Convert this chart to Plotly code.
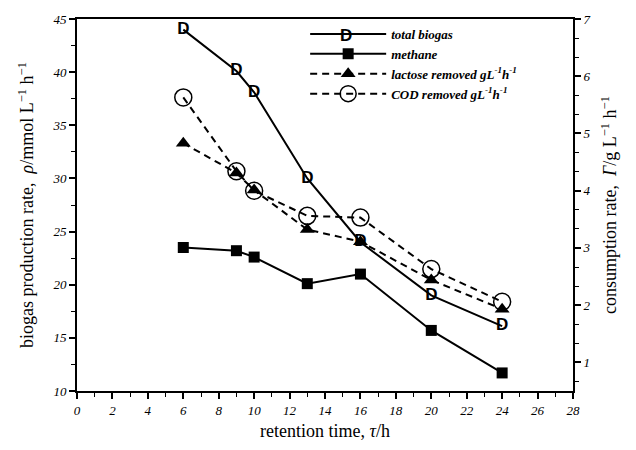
import plotly.graph_objects as go

retention_time = [6, 9, 10, 13, 16, 20, 24]
total_biogas = [44.0, 40.1, 38.1, 30.0, 24.0, 19.0, 16.1]
methane = [23.5, 23.2, 22.6, 20.1, 21.0, 15.7, 11.7]
lactose_removed = [4.83, 4.31, 4.01, 3.32, 3.11, 2.44, 1.93]
cod_removed = [5.63, 4.34, 4.00, 3.56, 3.53, 2.63, 2.06]

serif = "Liberation Serif"
black = "#000000"
d_font = dict(family="Liberation Sans", size=17, weight="bold", color=black)

fig = go.Figure()

fig.add_trace(go.Scatter(
    x=retention_time, y=total_biogas, name="total biogas",
    mode="lines+text", text=["D"] * len(retention_time), textposition="middle center",
    textfont=d_font,
    line=dict(color=black, width=2), yaxis="y"))

fig.add_trace(go.Scatter(
    x=retention_time, y=methane, name="methane",
    mode="lines+markers", marker=dict(symbol="square", size=11, color=black),
    line=dict(color=black, width=2), yaxis="y"))

fig.add_trace(go.Scatter(
    x=retention_time, y=lactose_removed, name="lactose removed gL<sup>-1</sup>h<sup>-1</sup>",
    mode="lines+markers", marker=dict(symbol="triangle-up", size=13, color=black),
    line=dict(color=black, width=2, dash="7px,5px"), yaxis="y2"))

fig.add_trace(go.Scatter(
    x=retention_time, y=cod_removed, name="COD removed gL<sup>-1</sup>h<sup>-1</sup>",
    mode="lines+markers",
    marker=dict(symbol="circle-open", size=17, color=black, line=dict(width=1.5, color=black)),
    line=dict(color=black, width=2, dash="7px,5px"), yaxis="y2"))

tickfont = dict(family=serif, size=13, style="italic", color=black)
titlefont = dict(family=serif, size=18, color=black)

fig.update_layout(
    width=636, height=450,
    margin=dict(l=77, r=63, t=12, b=47),
    paper_bgcolor="white", plot_bgcolor="white",
    showlegend=True,
    legend=dict(x=0.46, y=1.0, xanchor="left", yanchor="top",
                bgcolor="rgba(0,0,0,0)", borderwidth=0, itemwidth=76,
                font=dict(family=serif, size=13, style="italic", weight="bold", color=black),
                tracegroupgap=0, itemsizing="trace"),
    annotations=[dict(text="D", xref="paper", yref="paper", x=0.543, y=0.955,
                      xanchor="center", yanchor="middle", showarrow=False, font=d_font)],
    xaxis=dict(range=[0, 28], dtick=2, tick0=0, showgrid=False, zeroline=False,
               showline=True, linecolor=black, linewidth=2, mirror=True,
               ticks="outside", ticklen=6, tickwidth=1.5, tickcolor=black,
               minor=dict(dtick=1, ticks="outside", ticklen=4, tickwidth=1, tickcolor=black),
               tickfont=tickfont,
               title=dict(text="retention time, <i>τ</i>/h", font=titlefont, standoff=8)),
    yaxis=dict(range=[10, 45], dtick=5, tick0=10, showgrid=False, zeroline=False,
               showline=True, linecolor=black, linewidth=2,
               ticks="outside", ticklen=6, tickwidth=1.5, tickcolor=black,
               minor=dict(dtick=2.5, ticks="outside", ticklen=4, tickwidth=1, tickcolor=black),
               tickfont=tickfont,
               title=dict(text="biogas production rate,  <i>ρ</i>/mmol L<sup>−1</sup> h<sup>−1</sup>",
                          font=titlefont, standoff=14)),
    yaxis2=dict(range=[0.5, 7], dtick=1, tick0=0, overlaying="y", side="right",
                showgrid=False, zeroline=False,
                showline=True, linecolor=black, linewidth=2,
                ticks="outside", ticklen=6, tickwidth=1.5, tickcolor=black,
                minor=dict(dtick=1/3, tick0=0, ticks="outside", ticklen=4, tickwidth=1, tickcolor=black),
                tickfont=tickfont,
                title=dict(text="consumption rate,  <i>Γ</i>/g L<sup>−1</sup> h<sup>−1</sup>",
                           font=titlefont, standoff=14)),
)

fig.write_html("out.html")
